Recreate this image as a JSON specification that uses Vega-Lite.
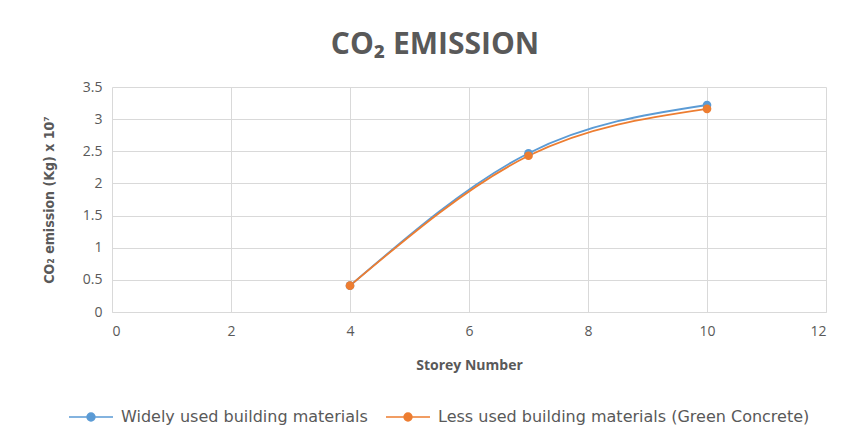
{
  "$schema": "https://vega.github.io/schema/vega-lite/v6.json",
  "width": 714,
  "height": 225,
  "autosize": {"type": "none"},
  "padding": {"left": 112, "top": 87, "right": 22, "bottom": 129},
  "background": "white",
  "title": {
    "text": "CO₂ EMISSION",
    "font": "Open Sans",
    "fontSize": 30,
    "fontWeight": "bold",
    "color": "#595959",
    "anchor": "middle",
    "dx": -34,
    "offset": 20
  },
  "data": {
    "values": [
      {"storey": 4, "co2": 0.41, "series": "Widely used building materials"},
      {"storey": 7, "co2": 2.47, "series": "Widely used building materials"},
      {"storey": 10, "co2": 3.22, "series": "Widely used building materials"},
      {"storey": 4, "co2": 0.41, "series": "Less used building materials (Green Concrete)"},
      {"storey": 7, "co2": 2.43, "series": "Less used building materials (Green Concrete)"},
      {"storey": 10, "co2": 3.16, "series": "Less used building materials (Green Concrete)"}
    ]
  },
  "encoding": {
    "x": {
      "field": "storey",
      "type": "quantitative",
      "scale": {"domain": [0, 12], "nice": false},
      "axis": {
        "title": "Storey Number",
        "values": [0, 2, 4, 6, 8, 10, 12],
        "format": "~g",
        "titleFont": "Open Sans",
        "titleFontSize": 14,
        "titleFontWeight": "bold",
        "titleColor": "#595959",
        "titlePadding": 20,
        "labelFont": "Open Sans",
        "labelFontSize": 14,
        "labelColor": "#595959",
        "labelPadding": 12,
        "ticks": false,
        "domain": true,
        "domainColor": "#d9d9d9",
        "gridColor": "#d9d9d9"
      }
    },
    "y": {
      "field": "co2",
      "type": "quantitative",
      "scale": {"domain": [0, 3.5], "nice": false},
      "axis": {
        "title": "CO₂ emission (Kg) x 10⁷",
        "values": [0, 0.5, 1, 1.5, 2, 2.5, 3, 3.5],
        "format": "~g",
        "titleFont": "DejaVu Sans Condensed",
        "titleFontSize": 14,
        "titleFontWeight": "bold",
        "titleColor": "#595959",
        "titlePadding": 26,
        "labelFont": "Open Sans",
        "labelFontSize": 14,
        "labelColor": "#595959",
        "labelPadding": 10,
        "ticks": false,
        "domain": false,
        "gridColor": "#d9d9d9"
      }
    },
    "color": {
      "field": "series",
      "type": "nominal",
      "scale": {
        "domain": ["Widely used building materials", "Less used building materials (Green Concrete)"],
        "range": ["#5B9BD5", "#ED7D31"]
      },
      "legend": {
        "title": null,
        "orient": "none",
        "direction": "horizontal",
        "legendX": -44,
        "legendY": 307,
        "symbolType": "M-1,0H1M-0.18,0A0.18,0.18 0 1,1 0.18,0A0.18,0.18 0 1,1 -0.18,0",
        "symbolSize": 1936,
        "symbolStrokeWidth": 1.5,
        "labelFont": "DejaVu Sans",
        "labelFontSize": 16,
        "labelColor": "#595959",
        "labelLimit": 0,
        "columnPadding": 15,
        "labelOffset": 7
      }
    }
  },
  "layer": [
    {"mark": {"type": "line", "interpolate": "monotone", "strokeWidth": 1.8}},
    {"mark": {"type": "point", "filled": true, "size": 75, "opacity": 1}}
  ],
  "config": {"view": {"stroke": null}}
}
